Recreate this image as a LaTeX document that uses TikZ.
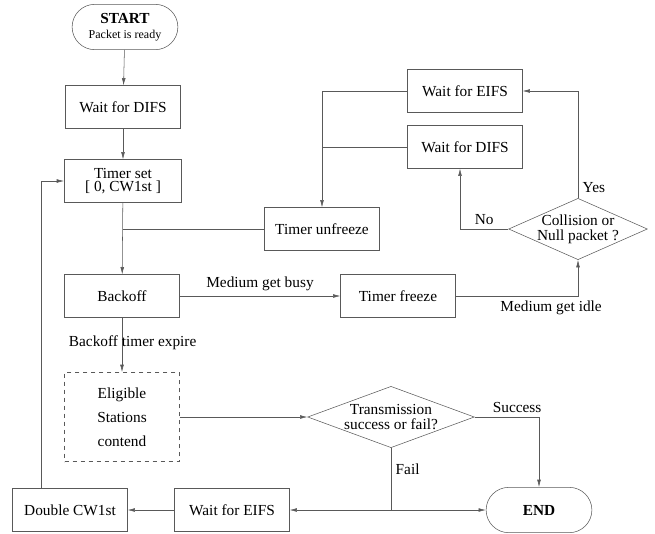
\documentclass[tikz,border=0pt]{standalone}
\usepackage{fontspec}
\setmainfont{Liberation Serif}
\usetikzlibrary{shapes.geometric,shapes.misc,arrows.meta}

\definecolor{liniengrau}{gray}{0.35}
\tikzset{
  box/.style={draw=liniengrau, minimum width=86pt, minimum height=32pt, inner sep=2pt, align=center},
  term/.style={draw=liniengrau, rounded rectangle, minimum width=86pt, minimum height=34pt, align=center},
  frage/.style={draw=liniengrau, diamond, inner sep=-4pt, align=center},
  pfeil/.style={draw=liniengrau, -{Latex[length=5.5pt,width=2.8pt]}},
  linie/.style={draw=liniengrau},
}

\begin{document}
\begin{tikzpicture}[x=0.75pt,y=-0.75pt,font=\fontsize{11.5}{13}\selectfont]
    \useasboundingbox (0,0) rectangle (655,533);
    % linke Spalte:
    \node[term] (start) at (125,27) {\textbf{START}\\[-2pt]{\fontsize{9}{10}\selectfont Packet is ready}};
    \node[box] (difs) at (123,107) {Wait for DIFS};
    \node[box, minimum width=88pt] (tset) at (123,181) {Timer set\\[-3pt][ 0, CW1st ]};
    \node[box] (backoff) at (122,296) {Backoff};
    \node[box, dashed, minimum height=67pt, font=\fontsize{11.5}{18}\selectfont] (elig) at (122,417) {Eligible\\Stations\\contend};
    % rechte Seite:
    \node[box] (unfreeze) at (322,229) {Timer unfreeze};
    \node[box] (freeze) at (398,296) {Timer freeze};
    \node[box] (eifs) at (465,91) {Wait for EIFS};
    \node[box] (difsb) at (465,147) {Wait for DIFS};
    \node[frage, aspect=2.26, minimum width=104pt, minimum height=46pt] (coll) at (578,229) {Collision or\\[-2pt]Null packet ?};
    % unten:
    \node[frage, aspect=2.7, minimum width=125pt, minimum height=46pt] (trans) at (391,417) {Transmission\\[-2pt]success or fail?};
    \node[term] (ende) at (539,510) {\textbf{END}};
    \node[box] (eifsb) at (232,510) {Wait for EIFS};
    \node[box] (dcw) at (70,510) {Double CW1st};

    \draw[pfeil] (start) -- (difs);
    \draw[pfeil] (difs) -- (tset);
    \draw[pfeil] (tset) -- (backoff);
    \draw[linie] (unfreeze.west) -- (unfreeze.west -| tset.south); % Rueckweg
    \draw[pfeil] (eifs.west) -| (unfreeze.north);
    \draw[linie] (difsb.west) -- (difsb.west -| unfreeze.north);
    \draw[pfeil] (coll.west) -| node[pos=0.25, above] {No} ([xshift=-3.75pt]difsb.south);
    \draw[pfeil] (coll.north) |- node[pos=0.05, right] {Yes} (eifs.east);
    \draw[pfeil] (backoff) -- node[above] {Medium get busy} (freeze);
    \draw[pfeil] (freeze.east) -| node[pos=0.39, below] {Medium get idle} (coll.south);
    \draw[pfeil] (backoff) -- node[pos=0.47, xshift=8pt] {Backoff timer expire} (elig);
    \draw[pfeil] (elig) -- (trans);
    \draw[pfeil] (trans.east) -| node[pos=0.33, above] {Success} (ende.north);
    \coordinate (fail) at (trans.south |- ende.west);
    \draw[linie] (trans.south) -- node[pos=0.35, right] {Fail} (fail);
    \draw[pfeil] (fail) -- (ende.west);
    \draw[pfeil] (fail) -- (eifsb.east);
    \draw[pfeil] (eifsb) -- (dcw);
    \draw[pfeil] ([xshift=-21.75pt]dcw.north) |- (tset.west); % zurueck zu Timer set
\end{tikzpicture}
\end{document}
